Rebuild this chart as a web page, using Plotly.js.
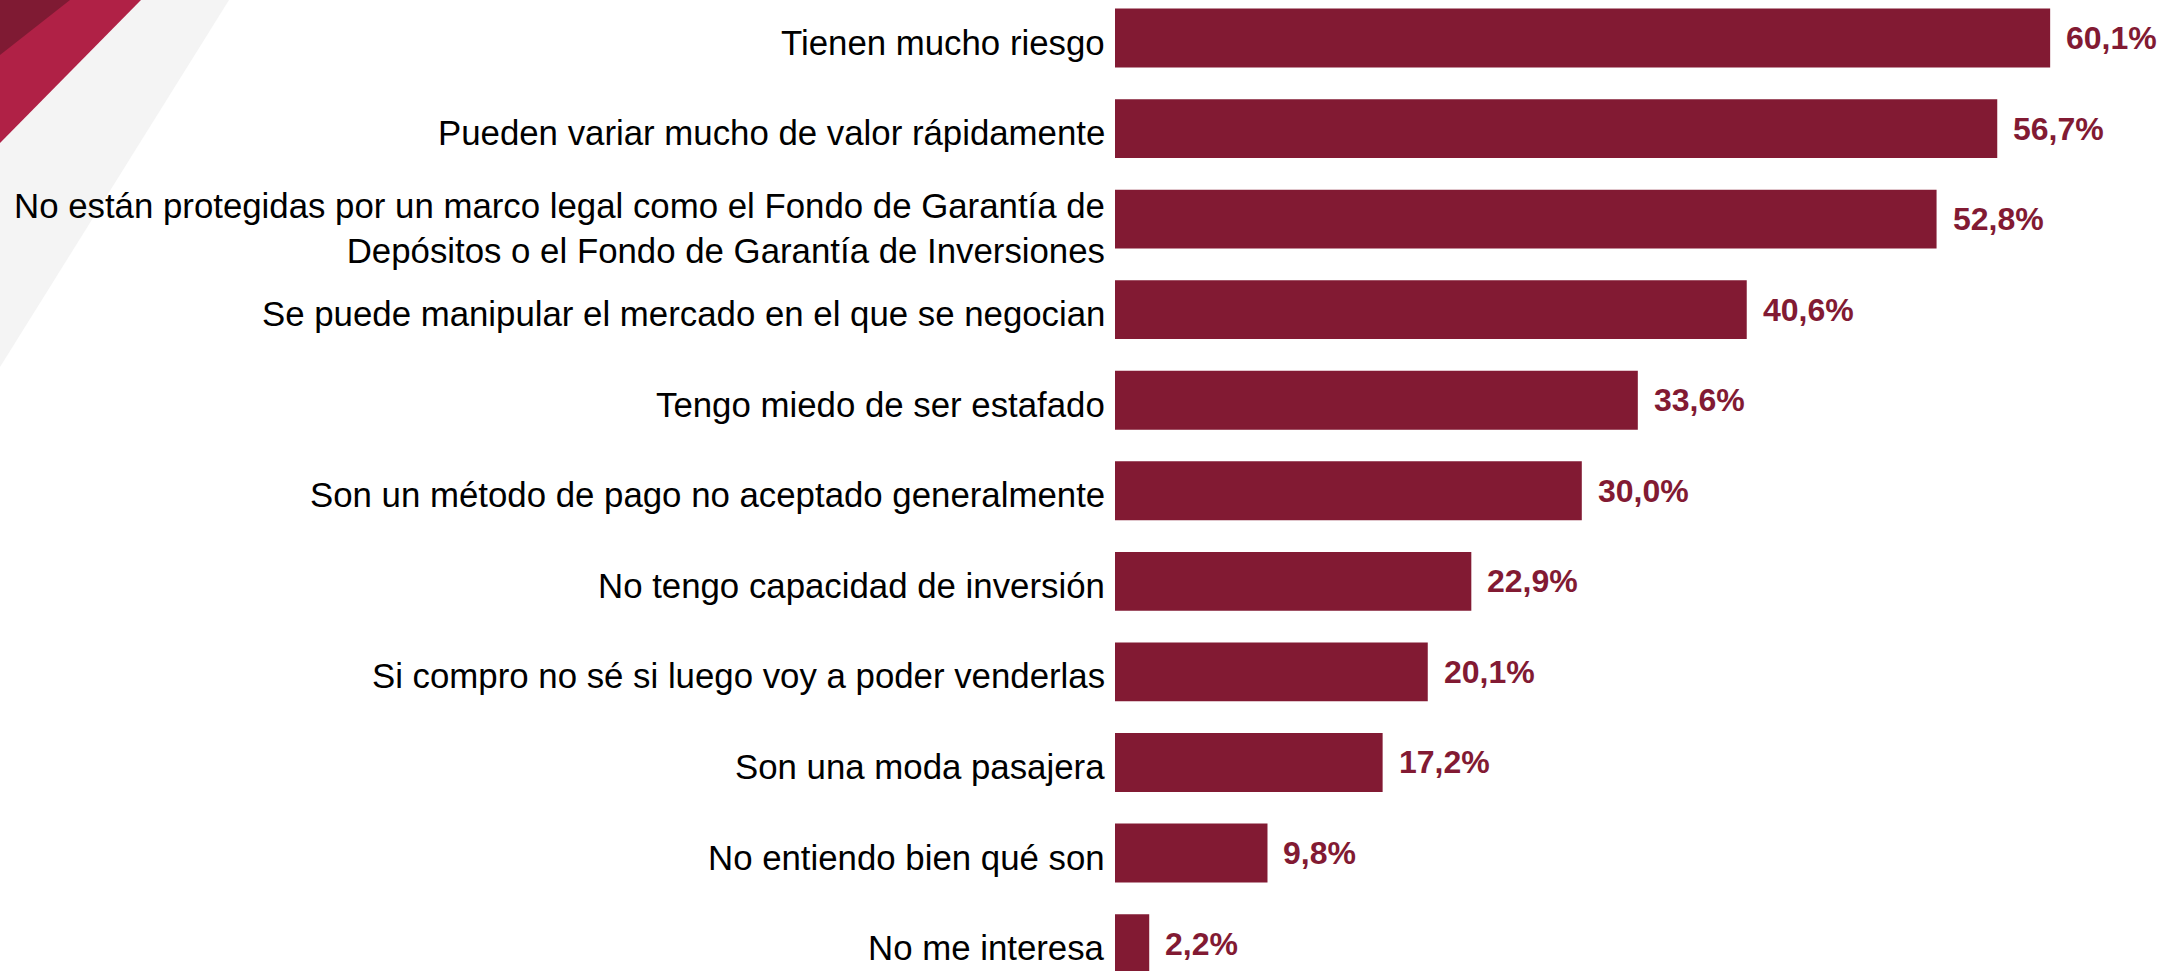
<!DOCTYPE html>
<html>
<head>
<meta charset="utf-8">
<script src="https://cdn.plot.ly/plotly-3.0.1.min.js"></script>
<style>
  html, body { margin: 0; padding: 0; background: #ffffff; }
  #chart { width: 2174px; height: 971px; }
</style>
</head>
<body>
<div id="chart"></div>
<script>
// Reasons for not investing in crypto-assets (% of respondents)
const categories = [
  "Tienen mucho riesgo",
  "Pueden variar mucho de valor rápidamente",
  "No están protegidas por un marco legal como el Fondo de Garantía de<br>Depósitos o el Fondo de Garantía de Inversiones",
  "Se puede manipular el mercado en el que se negocian",
  "Tengo miedo de ser estafado",
  "Son un método de pago no aceptado generalmente",
  "No tengo capacidad de inversión",
  "Si compro no sé si luego voy a poder venderlas",
  "Son una moda pasajera",
  "No entiendo bien qué son",
  "No me interesa"
];
const values = [60.1, 56.7, 52.8, 40.6, 33.6, 30.0, 22.9, 20.1, 17.2, 9.8, 2.2];

const barColor = "#821a33";
const FONT = "Liberation Sans, Arial, sans-serif";
const W = 2174, H = 971;
const plotLeft = 1115;
const pxPerUnit = 15.56;
const rowPx = 90.56;
const firstRowCenter = 38;

const fmt = v => v.toFixed(1).replace(".", ",") + "%";

// paper-coordinate helpers for the corner decoration
const px = x => (x - plotLeft) / (W - plotLeft);
const py = y => 1 - y / H;
const poly = pts => "M " + pts.map(p => px(p[0]) + "," + py(p[1])).join(" L ") + " Z";

const trace = {
  type: "bar",
  orientation: "h",
  y: categories,
  x: values,
  marker: { color: barColor },
  hoverinfo: "skip"
};

// value labels to the right of each bar
const valueLabels = values.map((v, i) => ({
  x: v, y: categories[i], xref: "x", yref: "y",
  text: "<b>" + fmt(v) + "</b>",
  showarrow: false, xanchor: "left", yanchor: "middle", xshift: 14,
  font: { family: FONT, size: 32, color: barColor }
}));

// category labels, right-aligned against the bars
const categoryLabels = categories.map(c => ({
  x: 0, y: c, xref: "paper", yref: "y",
  text: c, align: "right",
  showarrow: false, xanchor: "right", yanchor: "middle",
  xshift: -8, yshift: c.includes("<br>") ? -9 : -4,
  font: { family: FONT, size: 34.8, color: "#000000" }
}));

const topVal = -firstRowCenter / rowPx;
const botVal = topVal + H / rowPx;

const layout = {
  width: W, height: H,
  margin: { l: plotLeft, r: 0, t: 0, b: 0, pad: 0 },
  paper_bgcolor: "#ffffff",
  plot_bgcolor: "rgba(0,0,0,0)",
  showlegend: false,
  bargap: 0.35,
  font: { family: FONT, size: 35, color: "#000000" },
  xaxis: {
    range: [0, (W - plotLeft) / pxPerUnit],
    visible: false, showgrid: false, zeroline: false, fixedrange: true
  },
  yaxis: {
    type: "category",
    categoryorder: "array",
    categoryarray: categories,
    range: [botVal, topVal],
    showgrid: false, zeroline: false, showline: false,
    ticks: "", showticklabels: false,
    fixedrange: true
  },
  annotations: categoryLabels.concat(valueLabels),
  shapes: [
    { type: "path", xref: "paper", yref: "paper", layer: "below",
      path: poly([[0, 0], [229, 0], [0, 367]]),
      fillcolor: "#f4f4f4", line: { width: 0 } },
    { type: "path", xref: "paper", yref: "paper", layer: "below",
      path: poly([[0, 0], [141, 0], [0, 143]]),
      fillcolor: "#b02146", line: { width: 0 } },
    { type: "path", xref: "paper", yref: "paper", layer: "below",
      path: poly([[0, 0], [70, 0], [0, 55]]),
      fillcolor: "#7f1a33", line: { width: 0 } }
  ]
};

Plotly.newPlot("chart", [trace], layout, { displayModeBar: false, staticPlot: true });
</script>
</body>
</html>
